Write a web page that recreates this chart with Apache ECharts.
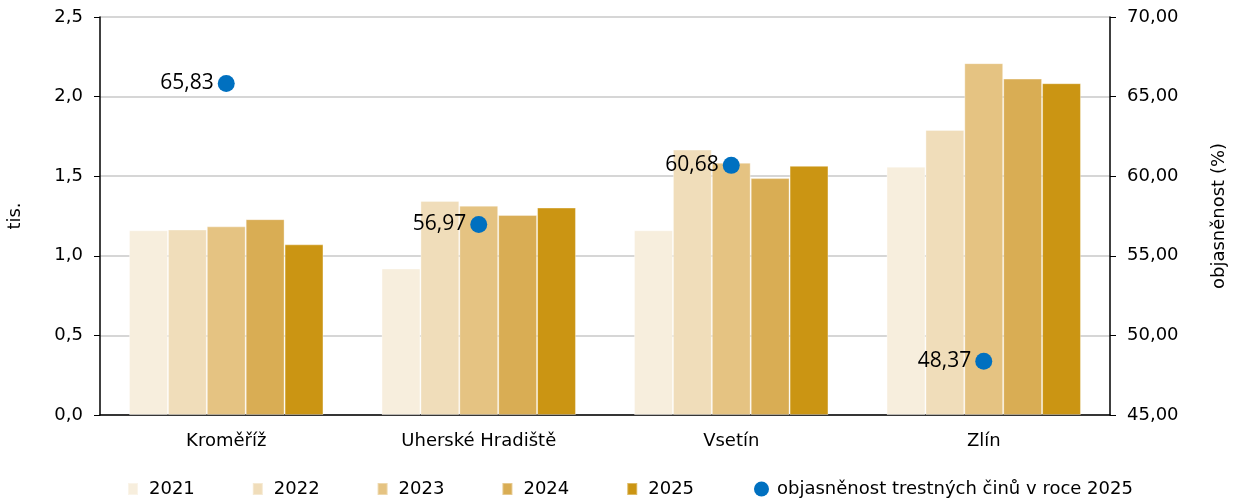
<!DOCTYPE html>
<html>
<head>
<meta charset="utf-8">
<script src="https://cdn.jsdelivr.net/npm/echarts@6/dist/echarts.min.js"></script>
<style>
  html, body { margin: 0; padding: 0; background: #fff; }
  #chart { width: 1236px; height: 499px; }
</style>
</head>
<body>
<div id="chart"></div>
<script>
// data
const regions = ['Kroměříž', 'Uherské Hradiště', 'Vsetín', 'Zlín'];
const years = ['2021', '2022', '2023', '2024', '2025'];
const v2021 = [1.16, 0.92, 1.16, 1.56];
const v2022 = [1.165, 1.345, 1.667, 1.79];
const v2023 = [1.185, 1.315, 1.585, 2.21];
const v2024 = [1.23, 1.256, 1.488, 2.113];
const v2025 = [1.072, 1.303, 1.565, 2.084];
const clearance = [65.83, 56.97, 60.68, 48.37];
const dotName = 'objasněnost trestných činů v roce 2025';

const barColors = ['#F7EEDD', '#F0DDBA', '#E5C382', '#D9AD54', '#CB9513'];
const values = [v2021, v2022, v2023, v2024, v2025];
const font = 'DejaVu Sans';
const comma = (v, d) => v.toFixed(d).replace('.', ',');

const chart = echarts.init(document.getElementById('chart'));

const barSeries = years.map((y, i) => ({
    name: y,
    type: 'bar',
    data: values[i],
    barGap: 0,
    barCategoryGap: '23%',
    itemStyle: { color: barColors[i], borderColor: 'rgba(255,255,255,0.35)', borderWidth: 1 },
    emphasis: { disabled: true }
}));

chart.setOption({
    animation: false,
    textStyle: { fontFamily: font },
    grid: { left: 100, right: 126, top: 17, bottom: 84, outerBoundsMode: 'none' },
    legend: [
        {
            data: years,
            left: 122,
            top: 475,
            icon: 'rect',
            itemWidth: 10,
            itemHeight: 12,
            itemGap: 57,
            textStyle: { fontFamily: font, fontSize: 18, color: '#000', padding: [0, 0, 0, 6] }
        },
        {
            data: [dotName],
            left: 749,
            top: 475,
            icon: 'circle',
            itemWidth: 15,
            itemHeight: 15,
            itemStyle: { opacity: 1 },
            textStyle: { fontFamily: font, fontSize: 18, color: '#000', padding: [0, 0, 0, 3] }
        }
    ],
    xAxis: {
        type: 'category',
        data: regions,
        axisLine: { lineStyle: { color: '#000', width: 1.5 } },
        axisTick: { show: false },
        axisLabel: { color: '#000', fontSize: 18, fontFamily: font, margin: 17 }
    },
    yAxis: [
        {
            type: 'value',
            min: 0,
            max: 2.5,
            interval: 0.5,
            name: 'tis.',
            nameLocation: 'middle',
            nameGap: 76,
            nameTextStyle: { color: '#000', fontSize: 18, fontFamily: font },
            axisLine: { show: true, lineStyle: { color: '#000', width: 1.5 } },
            axisTick: { show: true, length: 6, lineStyle: { color: '#000' } },
            axisLabel: { color: '#000', fontSize: 18, fontFamily: font, margin: 17, formatter: v => comma(v, 1) },
            splitLine: { lineStyle: { color: '#C8C8C8', width: 1.5 } }
        },
        {
            type: 'value',
            min: 45,
            max: 70,
            interval: 5,
            name: 'objasněnost (%)',
            nameLocation: 'middle',
            nameGap: 100,
            nameTextStyle: { color: '#000', fontSize: 18, fontFamily: font },
            axisLine: { show: true, lineStyle: { color: '#000', width: 1.5 } },
            axisTick: { show: true, length: 6, lineStyle: { color: '#000' } },
            axisLabel: { color: '#000', fontSize: 18, fontFamily: font, margin: 17, formatter: v => comma(v, 2) },
            splitLine: { show: false }
        }
    ],
    series: barSeries.concat([{
        name: dotName,
        type: 'scatter',
        yAxisIndex: 1,
        data: clearance,
        symbolSize: 17,
        itemStyle: { color: '#0070C0', opacity: 1 },
        label: {
            show: true,
            position: 'left',
            distance: 4,
            fontFamily: 'Open Sans',
            fontSize: 21,
            color: '#000',
            formatter: p => comma(p.value, 2)
        },
        emphasis: { disabled: true },
        z: 5
    }])
});
</script>
</body>
</html>
